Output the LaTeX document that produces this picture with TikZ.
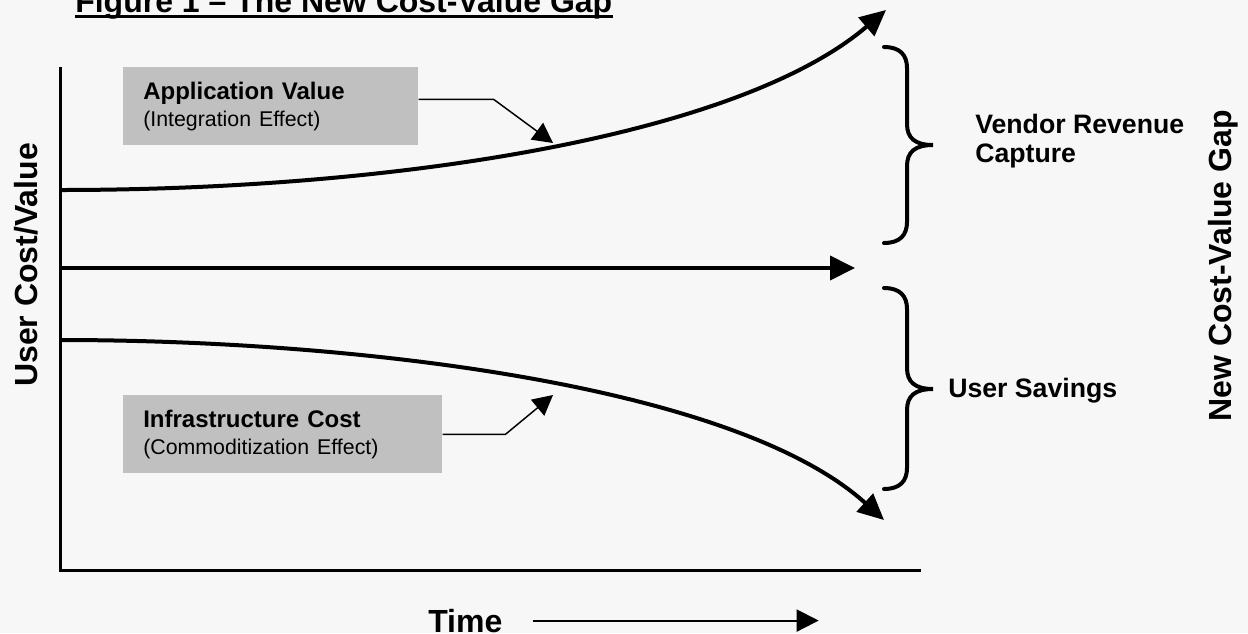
\documentclass[tikz,border=0pt]{standalone}
\usepackage{fontspec}
\setmainfont{Liberation Sans}
\usetikzlibrary{arrows.meta,calc}
\definecolor{pagegray}{HTML}{F7F7F7}
\definecolor{boxgray}{HTML}{C0C0C0}

\begin{document}
\begin{tikzpicture}[x=0.75pt,y=0.75pt,yscale=-1,xscale=1,
  trend/.style={line width=3pt,-{Triangle[length=19.5pt,width=18pt]}},
  callout/.style={line width=1.1pt,-{Triangle[length=15pt,width=15.5pt]}},
  gapbrace/.style={line width=3pt,line cap=round},
  labelbox/.style={fill=boxgray,anchor=north west,align=left,inner xsep=15pt,
    font=\fontsize{18}{20}\selectfont,minimum height=58.5pt}]
\useasboundingbox[fill=pagegray] (0,0) rectangle (1248,633);
% title, cut at the top edge
\node (title) [anchor=base west,inner sep=0pt,font=\fontsize{24}{28}\selectfont\bfseries] at (75,12.5) {Figure 1 – The New Cost-Value Gap};
\draw [line width=2.5pt] ($(title.base west)+(0,4)$) -- ($(title.base east)+(0,4)$) ;
% axes
\draw [line width=2.25pt] (60,67) -- (60,570) -- (921,570) ;
\node (ylbl) [rotate=90,font=\fontsize{24}{28}\selectfont\bfseries] at (26,265) {User Cost/Value};
\node (timelbl) [anchor=base west,inner sep=0pt,font=\fontsize{24}{28}\selectfont\bfseries] at (428,632) {Time};
\draw [line width=1.5pt,-{Triangle[length=16.5pt,width=16.5pt]}] ($(timelbl.east)+(30,0)$) -- ++(286,0) ;
% curves
\coordinate (valstart) at (60,190);
\coordinate (valend) at (886,10);
\coordinate (coststart) at (60,340);
\coordinate (costend) at (884,520);
\draw [trend] (valstart) .. controls (400,190) and (740,135) .. (valend) ;
\draw [trend] (coststart) .. controls (360,340) and (736,386) .. (costend) ;
\draw [trend,-{Triangle[length=18.75pt,width=18pt]}] (60,268) -- (855,268) ;
% boxes
\node (appbox) [labelbox,text width=191.25pt] at (123,67) {\textbf{Application Value}\\{\fontsize{16}{20}\selectfont (Integration Effect)}};
\node (infrabox) [labelbox,text width=209.25pt] at (123,395) {\textbf{Infrastructure Cost}\\{\fontsize{16}{20}\selectfont (Commoditization Effect)}};
\coordinate (apptip) at (553,143);
\coordinate (infratip) at (553,395);
\draw [callout] ($(appbox.east)+(0,-7)$) -- ++(75,0) -- (apptip) ;
\draw [callout] (infrabox.east) -- ++(63,0) -- (infratip) ;
% braces
\draw [gapbrace] (884,47) .. controls (900,47) and (907,55) .. (907,68) -- (907,124) .. controls (907,138) and (915,145) .. (933,145) .. controls (915,145) and (907,152) .. (907,166) -- (907,222) .. controls (907,235) and (900,243) .. (884,243) ;
\draw [gapbrace] (884,288) .. controls (900,288) and (907,296) .. (907,309) -- (907,368) .. controls (907,382) and (915,389) .. (933,389) .. controls (915,389) and (907,396) .. (907,410) -- (907,468) .. controls (907,481) and (900,489) .. (884,489) ;
\node (vendorlbl) [anchor=north west,align=left,inner sep=0pt,font=\fontsize{20}{21.75}\selectfont\bfseries] at (975,114) {Vendor Revenue\\Capture};
\node (savelbl) [anchor=base west,inner sep=0pt,font=\fontsize{20}{24}\selectfont\bfseries] at (948,397) {User Savings};
\node (gaplbl) [rotate=90,font=\fontsize{24}{28}\selectfont\bfseries] at (1223,266) {New Cost-Value Gap};
\end{tikzpicture}
\end{document}
